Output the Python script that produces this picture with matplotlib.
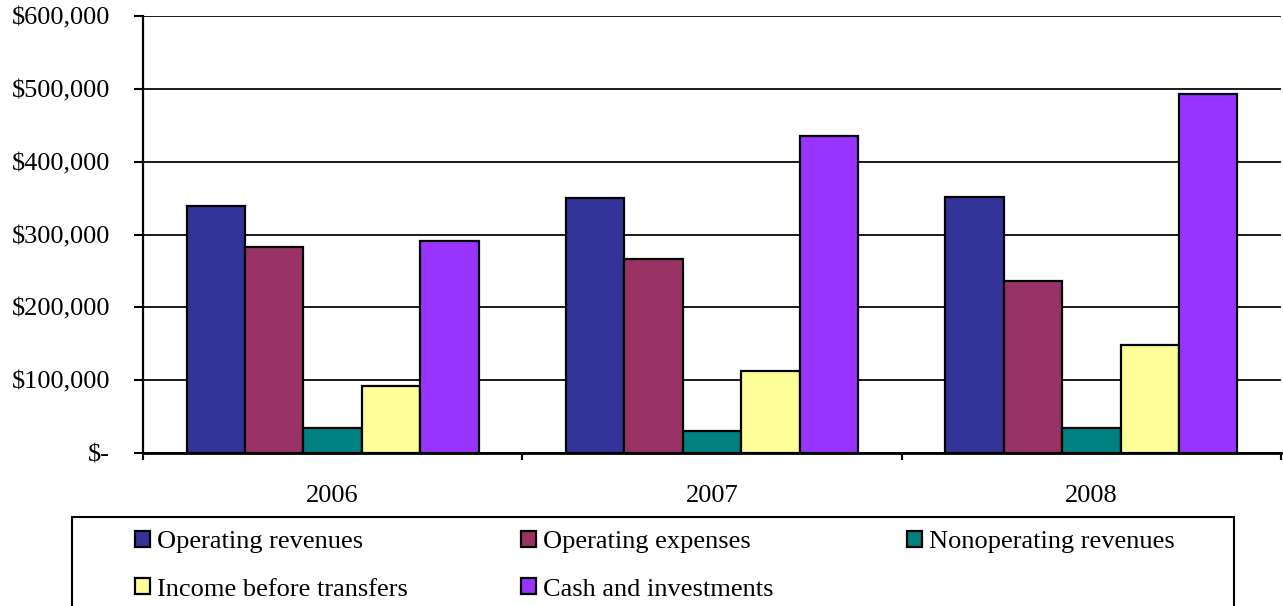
import matplotlib
matplotlib.use("Agg")
import matplotlib.pyplot as plt
from matplotlib.patches import Rectangle, Patch
from matplotlib.ticker import FuncFormatter, FixedLocator
import numpy as np

plt.rcParams['font.family'] = ['Liberation Serif', 'DejaVu Serif']

years = ["2006", "2007", "2008"]
series_names = ["Operating revenues", "Operating expenses", "Nonoperating revenues",
                "Income before transfers", "Cash and investments"]
operating_revenues = [338500, 349500, 352000]
operating_expenses = [283000, 267000, 236000]
nonoperating_revenues = [35000, 30000, 35000]
income_before_transfers = [92600, 113000, 147600]
cash_and_investments = [291000, 435000, 492700]
colors = ["#333399", "#993366", "#008080", "#FFFF99", "#9933FF"]

values = [operating_revenues, operating_expenses, nonoperating_revenues,
          income_before_transfers, cash_and_investments]

W, H = 1283, 606
fig = plt.figure(figsize=(W / 100, H / 100), dpi=100)
ax = fig.add_axes([143 / W, 1 - 453 / H, (1281 - 143) / W, (453 - 16) / H])

x = np.arange(len(years))
bw = 1 / 6.5
for i, (vals, c) in enumerate(zip(values, colors)):
    ax.bar(x + (i - 2) * bw, vals, width=bw, color=c, edgecolor="black",
           linewidth=1.6, zorder=3)

ax.set_xlim(-0.5, len(years) - 0.5)
ax.set_ylim(0, 600000)
ax.set_yticks(np.arange(0, 600001, 100000))
ax.yaxis.set_major_formatter(FuncFormatter(lambda v, p: "$-" if v == 0 else "${:,.0f}".format(v)))
ax.grid(axis="y", color="#1a1a1a", linewidth=1.4, zorder=0)
ax.set_axisbelow(True)

ax.set_xticks(x)
ax.set_xticklabels(years)
ax.xaxis.set_minor_locator(FixedLocator(np.arange(-0.5, len(years), 1.0)))
ax.tick_params(axis="x", which="major", length=0, pad=23, labelsize=19)
ax.tick_params(axis="x", which="minor", length=5, width=1.5, direction="out")
ax.tick_params(axis="y", which="major", length=6.5, width=1.5, direction="out", pad=17, labelsize=19)

for s in ["top", "right"]:
    ax.spines[s].set_visible(False)
ax.spines["left"].set_linewidth(1.6)
ax.spines["bottom"].set_linewidth(2)
ax.spines["bottom"].set_zorder(4)

# legend frame
fig.patches.append(Rectangle((72 / W, -0.05), (1234 - 72) / W, 0.05 + 1 - 517 / H,
                             transform=fig.transFigure, fill=False, edgecolor="black",
                             linewidth=1.5))

handles = [Patch(facecolor=c, edgecolor="black", linewidth=1.6) for c in colors]
columns = [[0, 3], [1, 4], [2]]
col_x = [135, 521, 907]
for cols, cx in zip(columns, col_x):
    leg = fig.legend([handles[k] for k in cols], [series_names[k] for k in cols],
                     loc="upper left", bbox_to_anchor=(cx / W, 1 - 531 / H),
                     frameon=False, borderpad=0, borderaxespad=0, fontsize=19,
                     handlelength=0.55, handleheight=0.55, handletextpad=0.3,
                     labelspacing=0.95)

fig.savefig("out.png", dpi=100)
